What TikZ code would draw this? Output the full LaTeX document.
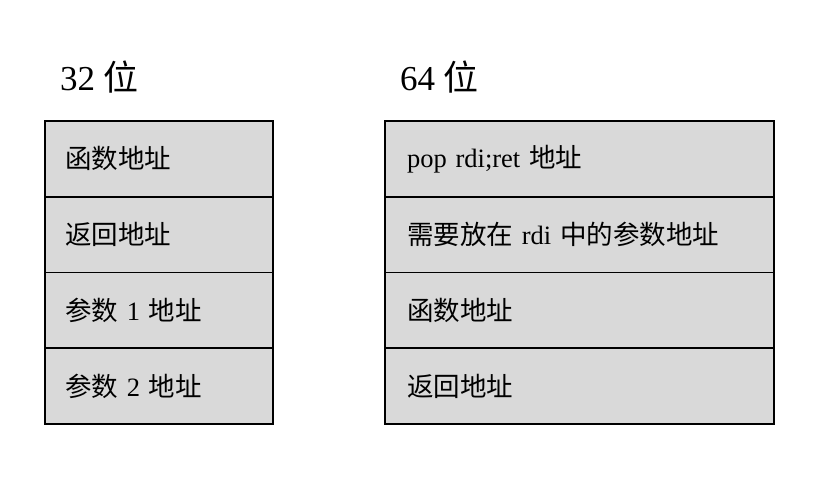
\documentclass[tikz,border=0pt]{standalone}
\usepackage{fontspec}
\setmainfont{Liberation Serif}
\newfontfamily\cjk{Noto Sans CJK SC}
\usetikzlibrary{positioning}
\definecolor{cellfill}{RGB}{217,217,217}
\newcommand{\zh}[1]{{\cjk #1}}
\tikzset{
  scell/.style={draw=black,fill=cellfill,line width=1.6pt,outer sep=0pt,
    minimum height=75.75pt,align=left,font=\fontsize{26.5}{30}\selectfont},
  lcell/.style={scell,inner xsep=20pt,text width=188pt},
  rcell/.style={scell,inner xsep=22pt,text width=345pt},
  stitle/.style={anchor=west,inner sep=0pt,font=\fontsize{35}{40}\selectfont},
}
\begin{document}
\begin{tikzpicture}[x=1pt,y=1pt]
  \useasboundingbox (0,0) rectangle (818,-492);
  % titles
  \node[stitle] (t32) at (60,-77) {32 \zh{位}};
  \node[stitle] (t64) at (400,-77) {64 \zh{位}};
  % 32-bit stack
  \node[lcell,anchor=north west] (a1) at (45,-121) {\zh{函数地址}};
  \node[lcell,below=0pt of a1] (a2) {\zh{返回地址}};
  \node[lcell,below=0pt of a2] (a3) {\zh{参数} 1 \zh{地址}};
  \node[lcell,below=0pt of a3] (a4) {\zh{参数} 2 \zh{地址}};
  % 64-bit stack
  \node[rcell,anchor=north west] (b1) at (385,-121) {pop rdi;ret \zh{地址}};
  \node[rcell,below=0pt of b1] (b2) {\zh{需要放在} rdi \zh{中的参数地址}};
  \node[rcell,below=0pt of b2] (b3) {\zh{函数地址}};
  \node[rcell,below=0pt of b3] (b4) {\zh{返回地址}};
\end{tikzpicture}
\end{document}
